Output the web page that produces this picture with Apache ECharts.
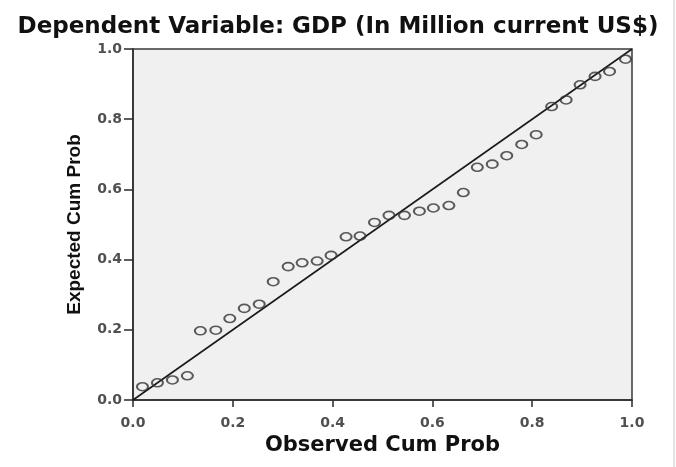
<!DOCTYPE html>
<html>
<head>
<meta charset="utf-8">
<script src="https://cdn.jsdelivr.net/npm/echarts@6/dist/echarts.min.js"></script>
<style>
  html, body { margin: 0; padding: 0; background: #ffffff; }
  #chart { width: 676px; height: 467px; }
</style>
</head>
<body>
<div id="chart"></div>
<script>
// Normal P-P plot of regression standardized residuals
const chartTitle = 'Dependent Variable: GDP (In Million current US$)';
const xAxisTitle = 'Observed Cum Prob';
const yAxisTitle = 'Expected Cum Prob';
const tickValues = [0.0, 0.2, 0.4, 0.6, 0.8, 1.0];

const observedCumProb = [
  0.019, 0.049, 0.079, 0.109, 0.135, 0.166, 0.194, 0.223, 0.253,
  0.281, 0.311, 0.339, 0.369, 0.397, 0.427, 0.455, 0.484, 0.513,
  0.544, 0.574, 0.602, 0.633, 0.662, 0.690, 0.720, 0.749, 0.779,
  0.808, 0.839, 0.868, 0.896, 0.926, 0.955, 0.987
];
const expectedCumProb = [
  0.038, 0.049, 0.057, 0.069, 0.197, 0.199, 0.232, 0.261, 0.273,
  0.337, 0.380, 0.391, 0.396, 0.412, 0.465, 0.467, 0.506, 0.526,
  0.526, 0.538, 0.547, 0.554, 0.591, 0.663, 0.672, 0.696, 0.728,
  0.756, 0.836, 0.855, 0.898, 0.922, 0.936, 0.971
];
// Reference diagonal (observed = expected)
const diagonalX = [0, 1];
const diagonalY = [0, 1];

const points = observedCumProb.map((x, i) => [x, expectedCumProb[i]]);
const diagonal = diagonalX.map((x, i) => [x, diagonalY[i]]);

const tickFont = {
  fontFamily: 'DejaVu Sans',
  fontWeight: 'bold',
  fontSize: 14,
  color: '#505050'
};

const chart = echarts.init(document.getElementById('chart'), null, { renderer: 'canvas' });
chart.setOption({
  backgroundColor: '#ffffff',
  animation: false,
  title: {
    text: chartTitle,
    left: 'center',
    top: 11,
    textStyle: {
      fontFamily: 'DejaVu Sans',
      fontWeight: 'bold',
      fontSize: 23,
      color: '#111111'
    }
  },
  grid: {
    left: 133,
    top: 49,
    width: 499,
    height: 351,
    show: true,
    backgroundColor: '#f0f0f0',
    borderColor: '#3a3a3a',
    borderWidth: 1.5
  },
  xAxis: {
    type: 'value',
    min: 0,
    max: 1,
    interval: 0.2,
    name: xAxisTitle,
    nameLocation: 'middle',
    nameGap: 33,
    nameTextStyle: {
      fontFamily: 'DejaVu Sans',
      fontWeight: 'bold',
      fontSize: 21,
      color: '#111111'
    },
    axisLine: { show: true, onZero: false, lineStyle: { color: '#2a2a2a', width: 1.5 } },
    axisTick: { show: true, length: 7, lineStyle: { color: '#2a2a2a', width: 1.5 } },
    axisLabel: Object.assign({
      margin: 16,
      formatter: v => tickValues.find(t => Math.abs(t - v) < 1e-9).toFixed(1)
    }, tickFont),
    splitLine: { show: false }
  },
  yAxis: {
    type: 'value',
    min: 0,
    max: 1,
    interval: 0.2,
    name: yAxisTitle,
    nameLocation: 'middle',
    nameRotate: 90,
    nameGap: 49,
    nameTextStyle: {
      fontFamily: "'Liberation Sans'",
      fontWeight: 'bold',
      fontSize: 19,
      color: '#111111'
    },
    axisLine: { show: true, onZero: false, lineStyle: { color: '#2a2a2a', width: 1.5 } },
    axisTick: { show: true, length: 9, lineStyle: { color: '#2a2a2a', width: 1.5 } },
    axisLabel: Object.assign({
      margin: 11,
      formatter: v => tickValues.find(t => Math.abs(t - v) < 1e-9).toFixed(1)
    }, tickFont),
    splitLine: { show: false }
  },
  graphic: [{
    type: 'line',
    shape: { x1: 674, y1: 0, x2: 674, y2: 467 },
    style: { stroke: '#c8c8c8', lineWidth: 1 }
  }],
  series: [
    {
      type: 'line',
      data: diagonal,
      symbol: 'none',
      silent: true,
      lineStyle: { color: '#1a1a1a', width: 1.6 },
      z: 2
    },
    {
      type: 'scatter',
      data: points,
      symbol: 'circle',
      symbolSize: [11, 8],
      itemStyle: {
        color: 'rgba(0,0,0,0)',
        borderColor: '#333333',
        borderWidth: 1.8
      },
      z: 3
    }
  ]
});
</script>
</body>
</html>
